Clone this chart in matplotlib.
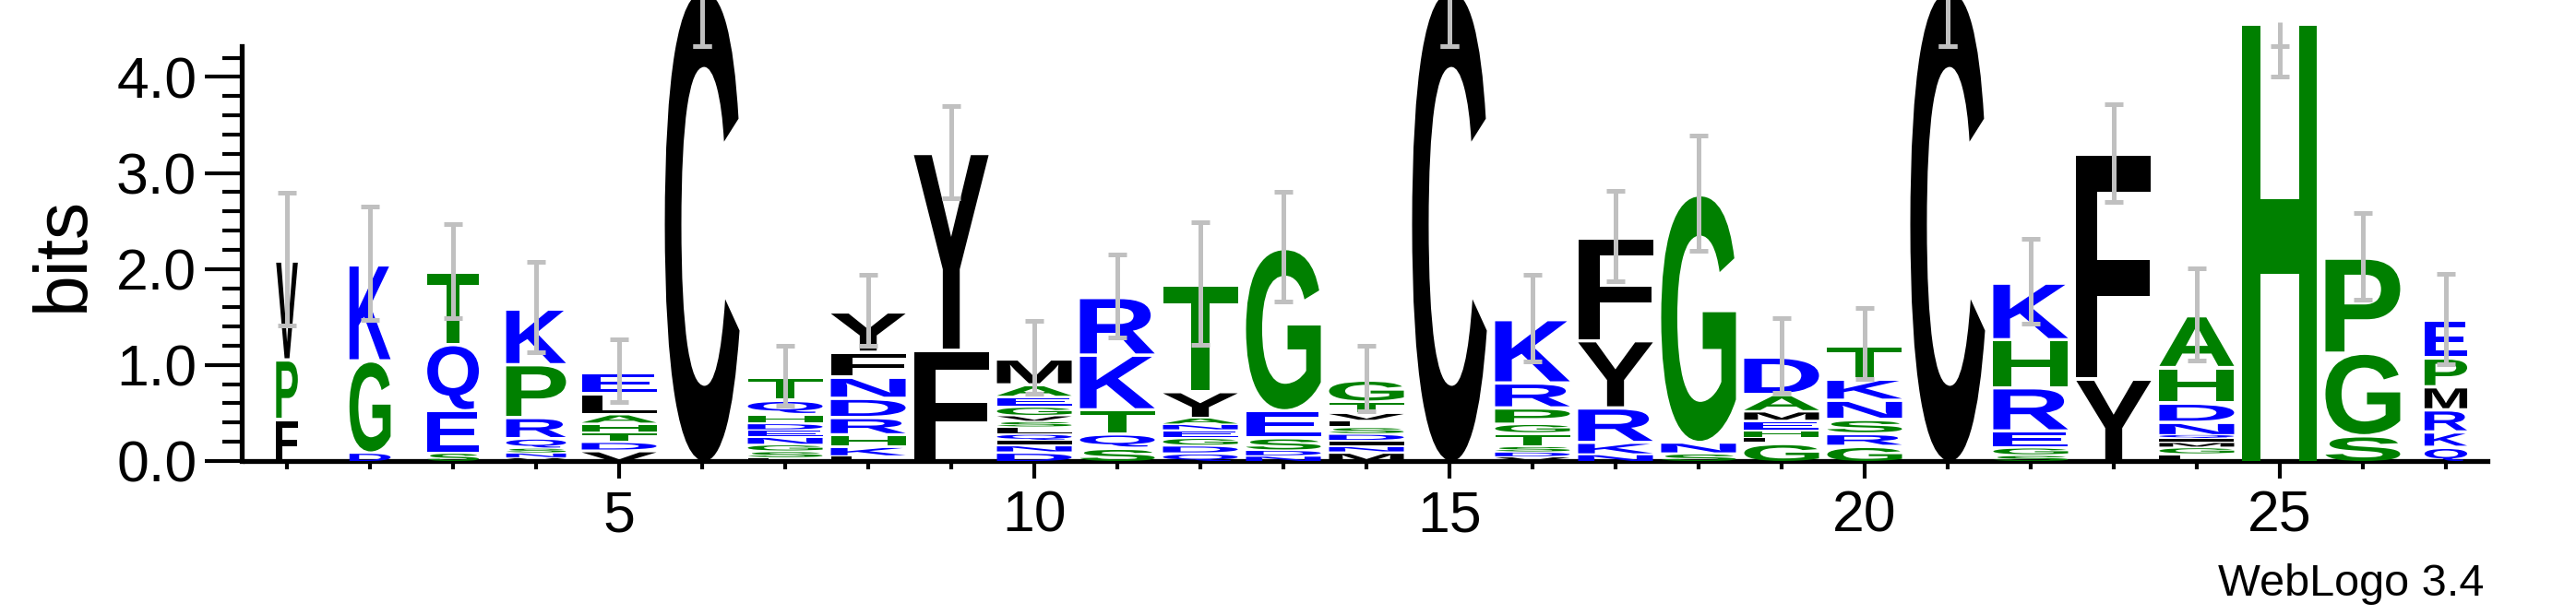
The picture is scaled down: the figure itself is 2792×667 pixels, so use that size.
import matplotlib
matplotlib.use("Agg")
import matplotlib.pyplot as plt
from matplotlib.textpath import TextPath
from matplotlib.patches import PathPatch
from matplotlib.font_manager import FontProperties
from matplotlib.transforms import Affine2D
from matplotlib.ticker import MultipleLocator, FixedLocator

# sequence logo data: letters listed bottom -> top, heights in bits
positions = list(range(1, 28))
letters = [
    "FPV", "DGK", "SEQT", "VNSQRPK", "VDTHALE", "C", "LSGNEDHQT",
    "LKHRDNFY", "FY", "DNIQLSVGEAM", "SQTKR", "QDGENAYT", "NDSEG",
    "MNIDSLVTG", "C", "VDSTGPRK", "NKRYF", "SNG", "GLHEMAD", "GRSNKT",
    "C", "SGERHK", "YF", "LGMIQNDHA", "H", "SGP", "QKRMPE",
]
heights = [
    [0.45, 0.62, 1.03],
    [0.10, 0.96, 1.00],
    [0.10, 0.44, 0.69, 0.75],
    [0.04, 0.05, 0.05, 0.11, 0.22, 0.55, 0.58],
    [0.12, 0.09, 0.10, 0.09, 0.10, 0.22, 0.22],
    [4.92],
    [0.04, 0.07, 0.07, 0.08, 0.07, 0.07, 0.10, 0.15, 0.24],
    [0.06, 0.10, 0.13, 0.18, 0.20, 0.22, 0.26, 0.42],
    [1.17, 2.05],
    [0.10, 0.07, 0.05, 0.07, 0.07, 0.06, 0.06, 0.10, 0.10, 0.13, 0.27],
    [0.15, 0.15, 0.25, 0.57, 0.60],
    [0.09, 0.08, 0.08, 0.08, 0.06, 0.07, 0.28, 1.11],
    [0.06, 0.06, 0.14, 0.28, 1.69],
    [0.10, 0.06, 0.06, 0.07, 0.07, 0.07, 0.08, 0.12, 0.23],
    [4.92],
    [0.05, 0.05, 0.06, 0.14, 0.10, 0.17, 0.26, 0.66],
    [0.08, 0.13, 0.36, 0.70, 1.07],
    [0.09, 0.12, 2.58],
    [0.20, 0.05, 0.08, 0.10, 0.10, 0.18, 0.39],
    [0.17, 0.13, 0.15, 0.20, 0.22, 0.35],
    [4.92],
    [0.07, 0.08, 0.18, 0.45, 0.50, 0.59],
    [0.87, 2.34],
    [0.08, 0.07, 0.05, 0.04, 0.04, 0.14, 0.20, 0.37, 0.54],
    [4.57],
    [0.28, 0.86, 0.99],
    [0.16, 0.16, 0.23, 0.24, 0.30, 0.39],
]
errors = [
    0.69, 0.59, 0.49, 0.47, 0.33, 0.60, 0.31, 0.37, 0.48, 0.38, 0.43,
    0.64, 0.57, 0.34, 0.60, 0.45, 0.47, 0.60, 0.39, 0.37, 0.60, 0.44,
    0.51, 0.48, 0.57, 0.45, 0.47,
]
# fraction of sequences covering each column (stack width scaling)
coverage = [0.29, 0.55, 0.69, 0.80] + [1.0] * 22 + [0.57]

MAX_BITS = 4.32
STACK_WIDTH = 0.9
COLOR_MAP = {}
for aa in "RKDENQ":
    COLOR_MAP[aa] = "#0000ff"
for aa in "SGHTAP":
    COLOR_MAP[aa] = "#008000"
for aa in "YVMCLFIW":
    COLOR_MAP[aa] = "#000000"

LETTER_FONT = FontProperties(family="Liberation Sans", weight="bold")
plt.rcParams["font.family"] = ["Liberation Sans", "DejaVu Sans"]


def draw_letter(ax, char, x, y, width, height, color):
    path = TextPath((0, 0), char, size=1, prop=LETTER_FONT)
    ext = path.get_extents()
    # leave a small gap above each glyph, like weblogo does
    gap = min(0.035, 0.25 * height)
    glyph_h = height - gap
    t = (Affine2D()
         .translate(-ext.x0, -ext.y0)
         .scale(width / ext.width, glyph_h / ext.height)
         .translate(x - width / 2, y))
    patch = PathPatch(t.transform_path(path), facecolor=color,
                      edgecolor="none", clip_on=False, zorder=3)
    ax.add_patch(patch)


fig = plt.figure(figsize=(27.92, 6.67), dpi=100)
ax = fig.add_axes([0.0953, 0.2504, 0.9656 - 0.0953, 0.925 - 0.2504])

for pos, stack, hts, err, cov in zip(positions, letters, heights, errors, coverage):
    y = 0.0
    for ch, h in zip(stack, hts):
        draw_letter(ax, ch, pos, y, STACK_WIDTH * cov, h, COLOR_MAP[ch])
        y += h
    top = y
    lo = top - err
    hi = min(top + err, MAX_BITS)
    gray = "#c0c0c0"
    ax.plot([pos, pos], [lo, max(top, hi)], color=gray, lw=3.6,
            solid_capstyle="butt", clip_on=False, zorder=5)
    for yc in (lo, hi):
        ax.plot([pos - 0.115, pos + 0.115], [yc, yc], color=gray, lw=3.6,
                solid_capstyle="butt", clip_on=False, zorder=5)

ax.set_xlim(0.5, 27.5)
ax.set_ylim(0, MAX_BITS)

for side in ("top", "right"):
    ax.spines[side].set_visible(False)
for side in ("left", "bottom"):
    ax.spines[side].set_linewidth(3.8)
ax.spines["left"].set_position(("outward", 3))

ax.yaxis.set_major_locator(FixedLocator([0, 1, 2, 3, 4]))
ax.yaxis.set_minor_locator(MultipleLocator(0.2))
ax.set_yticklabels(["0.0", "1.0", "2.0", "3.0", "4.0"])
ax.xaxis.set_major_locator(FixedLocator([5, 10, 15, 20, 25]))
ax.xaxis.set_minor_locator(FixedLocator(positions))

ax.tick_params(axis="y", which="major", length=29, width=3, pad=6, labelsize=45)
ax.tick_params(axis="y", which="minor", length=15, width=3)
ax.tick_params(axis="x", which="major", length=14, width=3, pad=8, labelsize=45)
ax.tick_params(axis="x", which="minor", length=6.5, width=3)

fig.text(69 / 2792, 1 - 275 / 667, "bits", rotation=90, ha="center",
         va="center", fontsize=58)
fig.text(2692 / 2792, 1 - 646 / 667, "WebLogo 3.4", ha="right",
         va="baseline", fontsize=35)

fig.savefig("out.png", dpi=100, facecolor="white")
